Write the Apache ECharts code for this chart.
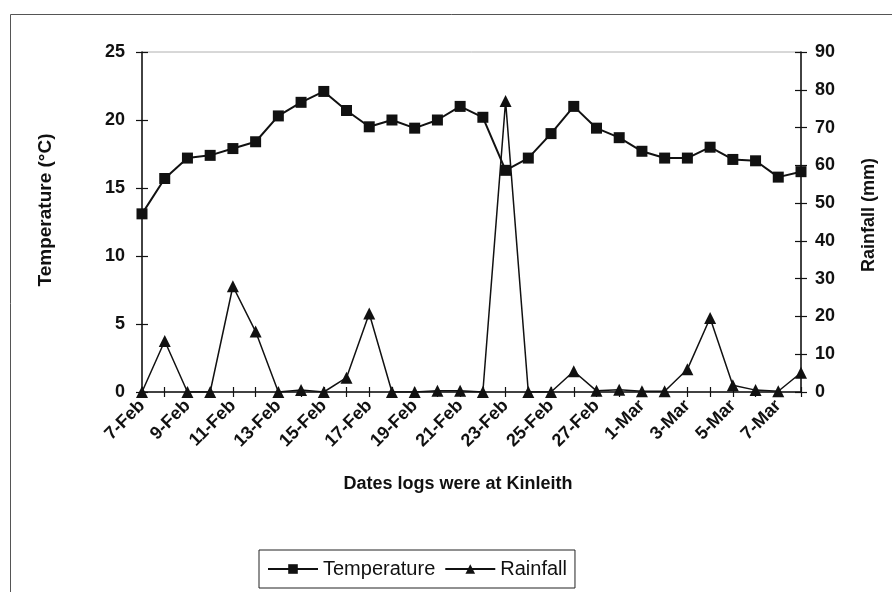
<!DOCTYPE html>
<html>
<head>
<meta charset="utf-8">
<script src="https://cdn.jsdelivr.net/npm/echarts@6/dist/echarts.min.js"></script>
<style>
  html, body { margin: 0; padding: 0; background: #fff; }
  #chart { width: 892px; height: 592px; }
</style>
</head>
<body>
<div id="chart"></div>
<script>
// Daily readings while the logs were at Kinleith
const dates = [
  '7-Feb', '8-Feb', '9-Feb', '10-Feb', '11-Feb', '12-Feb', '13-Feb', '14-Feb',
  '15-Feb', '16-Feb', '17-Feb', '18-Feb', '19-Feb', '20-Feb', '21-Feb', '22-Feb',
  '23-Feb', '24-Feb', '25-Feb', '26-Feb', '27-Feb', '28-Feb', '1-Mar', '2-Mar',
  '3-Mar', '4-Mar', '5-Mar', '6-Mar', '7-Mar', '8-Mar'
];
const temperature = [
  13.1, 15.7, 17.2, 17.4, 17.9, 18.4, 20.3, 21.3, 22.1, 20.7,
  19.5, 20.0, 19.4, 20.0, 21.0, 20.2, 16.3, 17.2, 19.0, 21.0,
  19.4, 18.7, 17.7, 17.2, 17.2, 18.0, 17.1, 17.0, 15.8, 16.2
];
const rainfall = [
  0, 13.5, 0, 0, 28, 16, 0, 0.5, 0, 3.8,
  20.8, 0, 0, 0.3, 0.3, 0, 77, 0, 0, 5.5,
  0.3, 0.6, 0.2, 0.2, 6.0, 19.6, 1.8, 0.5, 0.2, 5.1
];
const tempTicks = { min: 0, max: 25, interval: 5 };
const rainTicks = { min: 0, max: 90, interval: 10 };

const FONT = '"Liberation Sans", Arial, sans-serif';
const INK = '#111';
const CLEAR = 'rgba(0,0,0,0)';

const chart = echarts.init(document.getElementById('chart'), null, { renderer: 'canvas' });

const tickLabel = { color: INK, fontFamily: FONT, fontWeight: 'bold', fontSize: 18 };
const plotBox = { left: 142, right: 91, top: 52, bottom: 200 };

// Axes on a second, identical grid that only add the inward half of each crossing tick
function innerValueTicks(position, ticks) {
  return Object.assign({
    type: 'value', gridIndex: 1, position: position,
    axisLine: { show: true, lineStyle: { color: CLEAR } },
    axisTick: { show: true, inside: true, length: 6, lineStyle: { color: INK, width: 1.2 } },
    axisLabel: { show: false },
    splitLine: { show: false }
  }, ticks);
}

chart.setOption({
  animation: false,
  backgroundColor: '#fff',
  grid: [
    Object.assign({ show: true, borderColor: '#b0b0b0', borderWidth: 1, backgroundColor: 'transparent' }, plotBox),
    Object.assign({ show: false }, plotBox)
  ],
  title: {
    text: 'Dates logs were at Kinleith',
    left: 453, top: 470, textAlign: 'center',
    textStyle: { color: INK, fontFamily: FONT, fontWeight: 'bold', fontSize: 18 }
  },
  legend: {
    left: 259, top: 550,
    padding: [9, 8, 9, 8],
    itemGap: 9, itemWidth: 50, itemHeight: 12,
    borderColor: '#222', borderWidth: 1,
    textStyle: { color: INK, fontFamily: FONT, fontSize: 20 },
    data: ['Temperature', 'Rainfall']
  },
  xAxis: [
    {
      type: 'category', gridIndex: 0, data: dates, boundaryGap: false, position: 'bottom',
      axisLine: { onZero: false, lineStyle: { color: INK, width: 1.5 } },
      axisTick: { show: true, interval: 0, length: 5, lineStyle: { color: INK, width: 1.2 } },
      axisLabel: Object.assign({ interval: 1, rotate: 45, margin: 11 }, tickLabel),
      splitLine: { show: false }
    },
    {
      type: 'category', gridIndex: 1, data: dates, boundaryGap: false, position: 'bottom',
      axisLine: { show: true, onZero: false, lineStyle: { color: CLEAR } },
      axisTick: { show: true, inside: true, interval: 0, length: 5, lineStyle: { color: INK, width: 1.2 } },
      axisLabel: { show: false },
      splitLine: { show: false }
    }
  ],
  yAxis: [
    Object.assign({
      type: 'value', gridIndex: 0, position: 'left',
      axisLine: { show: true, lineStyle: { color: INK, width: 1.5 } },
      axisTick: { show: true, length: 6, lineStyle: { color: INK, width: 1.2 } },
      axisLabel: Object.assign({ margin: 17 }, tickLabel),
      splitLine: { show: false }
    }, tempTicks),
    Object.assign({
      type: 'value', gridIndex: 0, position: 'right',
      axisLine: { show: true, lineStyle: { color: INK, width: 1.5 } },
      axisTick: { show: true, length: 6, lineStyle: { color: INK, width: 1.2 } },
      axisLabel: Object.assign({ margin: 14 }, tickLabel),
      splitLine: { show: false }
    }, rainTicks),
    innerValueTicks('left', tempTicks),
    innerValueTicks('right', rainTicks)
  ],
  graphic: [
    {
      type: 'rect', silent: true, z: -1,
      shape: { x: 10.5, y: 14.5, width: 900, height: 600 },
      style: { fill: 'none', stroke: '#555', lineWidth: 1 }
    },
    {
      type: 'text', x: 46, y: 210, rotation: Math.PI / 2,
      style: {
        text: 'Temperature (°C)', fill: INK, font: 'bold 19px ' + FONT,
        textAlign: 'center', textVerticalAlign: 'middle'
      }
    },
    {
      type: 'text', x: 869, y: 215, rotation: Math.PI / 2,
      style: {
        text: 'Rainfall (mm)', fill: INK, font: 'bold 18px ' + FONT,
        textAlign: 'center', textVerticalAlign: 'middle'
      }
    }
  ],
  series: [
    {
      name: 'Temperature', type: 'line', xAxisIndex: 0, yAxisIndex: 0, data: temperature,
      symbol: 'rect', symbolSize: 11, z: 3,
      itemStyle: { color: INK },
      lineStyle: { color: INK, width: 2 }
    },
    {
      name: 'Rainfall', type: 'line', xAxisIndex: 0, yAxisIndex: 1, data: rainfall,
      symbol: 'triangle', symbolSize: 12, z: 2,
      itemStyle: { color: INK },
      lineStyle: { color: INK, width: 1.5 }
    }
  ]
});
</script>
</body>
</html>
